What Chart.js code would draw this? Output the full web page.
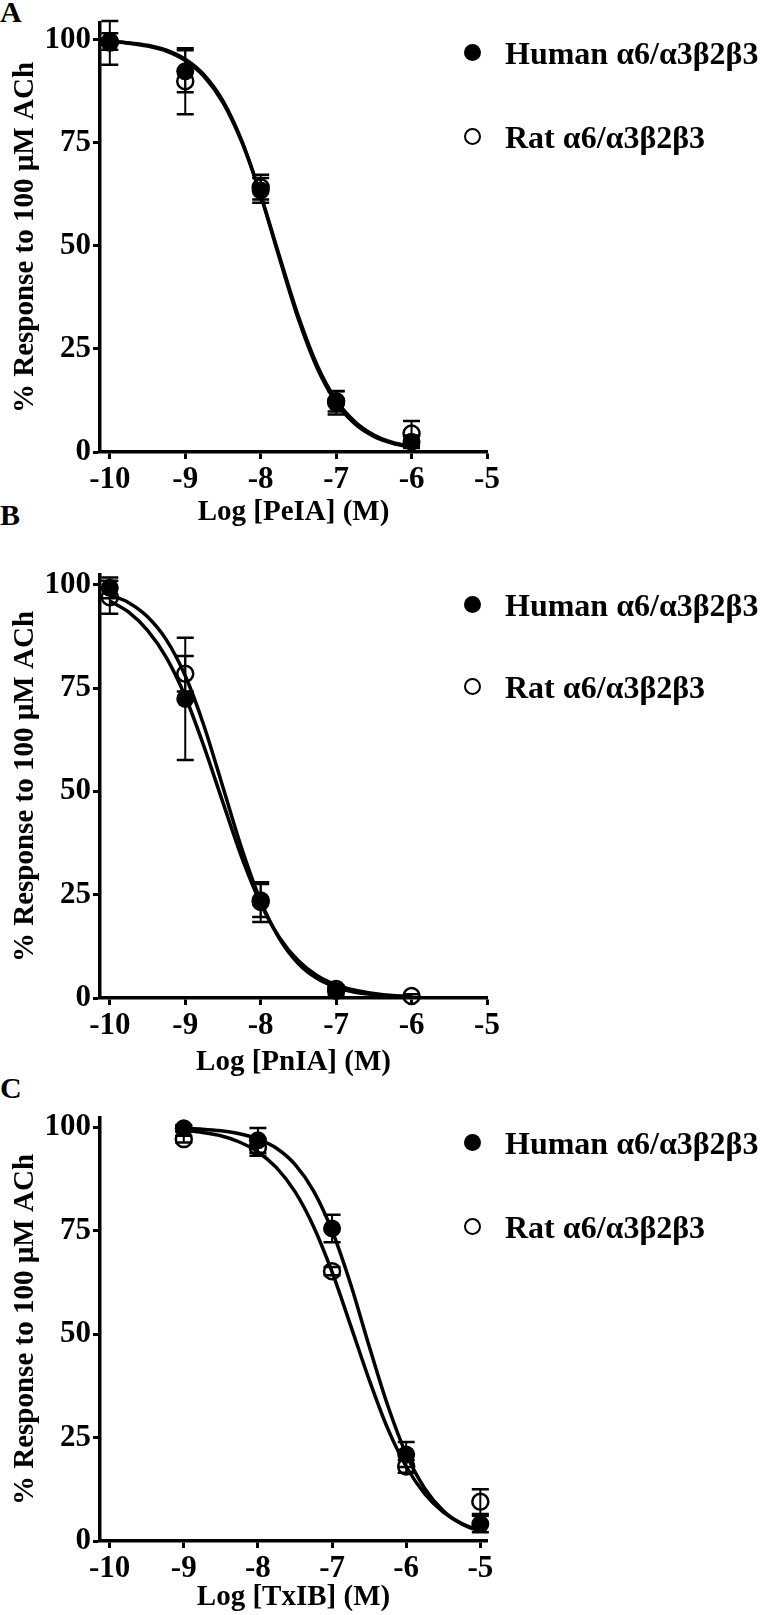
<!DOCTYPE html>
<html>
<head>
<meta charset="utf-8">
<script src="https://cdn.jsdelivr.net/npm/chart.js@4.4.1/dist/chart.umd.min.js"></script>
<style>
  html, body { margin: 0; padding: 0; background: #fff; overflow: hidden; }
  #page { position: relative; width: 760px; height: 1615px; overflow: hidden; }
  canvas { position: absolute; left: 0; }
  .letter {
    position: absolute; left: 0; font: bold 30px "Liberation Serif", serif;
    line-height: 30px; color: #000;
  }
  .legend {
    position: absolute; left: 505px; font: bold 32px "Liberation Serif", serif;
    line-height: 32px; color: #000; white-space: nowrap;
  }
  .dot {
    position: absolute; left: 464px; width: 17px; height: 17px;
    border-radius: 50%; box-sizing: border-box;
  }
  .dot.filled { background: #000; }
  .dot.open { border: 2.5px solid #000; }
</style>
</head>
<body>
<div id="page">
  <div class="letter" style="top:-3px">A</div>
  <div class="letter" style="top:500px">B</div>
  <div class="letter" style="top:1073px">C</div>

  <canvas id="chartA" width="760" height="530" style="top:0px"></canvas>
  <canvas id="chartB" width="760" height="540" style="top:540px"></canvas>
  <canvas id="chartC" width="760" height="535" style="top:1080px"></canvas>

  <div class="dot filled" style="top:44px"></div>
  <div class="legend" style="top:37px">Human α6/α3β2β3</div>
  <div class="dot open" style="top:128px"></div>
  <div class="legend" style="top:121px">Rat α6/α3β2β3</div>

  <div class="dot filled" style="top:596px"></div>
  <div class="legend" style="top:589px">Human α6/α3β2β3</div>
  <div class="dot open" style="top:678px"></div>
  <div class="legend" style="top:671px">Rat α6/α3β2β3</div>

  <div class="dot filled" style="top:1134px"></div>
  <div class="legend" style="top:1127px">Human α6/α3β2β3</div>
  <div class="dot open" style="top:1218px"></div>
  <div class="legend" style="top:1211px">Rat α6/α3β2β3</div>
</div>

<script>
// values (log molar concentration vs % response)
const xTicks = [-10, -9, -8, -7, -6, -5];
const yTicks = [0, 25, 50, 75, 100];

// A: PeIA
const peiaX = [-10, -9, -8, -7, -6];
const peiaHuman = [99.2, 92.3, 63.4, 11.9, 2.5];
const peiaHumanErr = [5.3, 5.1, 3.0, 2.8, 1.5];
const peiaRat = [99.5, 89.9, 64.2, 12.3, 4.5];
const peiaRatErr = [2.0, 8.0, 3.0, 2.5, 3.0];

// B: PnIA (no visible human point at -6)
const pniaX = [-10, -9, -8, -7, -6];
const pniaHuman = [99.3, 72.4, 23.2, 1.7, null];
const pniaHumanErr = [2.5, 14.8, 4.8, 1.0, 0];
const pniaRat = [97.0, 78.5, 23.6, 2.2, 0.5];
const pniaRatErr = [4.0, 4.3, 4.0, 0.8, 0.4];

// C: TxIB
const txibX = [-9, -8, -7, -6, -5];
const txibHuman = [99.7, 96.8, 75.5, 20.9, 4.1];
const txibHumanErr = [0.8, 3.0, 3.3, 3.0, 2.0];
const txibRat = [97.1, 95.1, 65.2, 18.0, 9.5];
const txibRatErr = [0.8, 2.0, 1.0, 1.5, 3.0];

// fitted curves, read every 0.25 log unit
const curveX = [-10, -9.75, -9.5, -9.25, -9, -8.75, -8.5, -8.25, -8,
  -7.75, -7.5, -7.25, -7, -6.75, -6.5, -6.25, -6];
const peiaHumanFit = [99.6, 99.2, 98.6, 97.4, 95.2, 91.4, 85.1, 75.4, 62.2,
  46.9, 32.2, 20.3, 12.0, 6.8, 3.8, 2.1, 1.1];
const peiaRatFit = [99.5, 99.1, 98.4, 97.2, 94.9, 91.0, 84.7, 75.1, 62.3,
  47.4, 32.9, 21.0, 12.6, 7.3, 4.1, 2.3, 1.3];
const pniaHumanFit = [96.1, 93.4, 89.0, 82.4, 73.0, 60.8, 47.3, 34.0, 22.9,
  14.6, 9.0, 5.4, 3.2, 1.9, 1.1, 0.6, 0.4];
const pniaRatFit = [97.6, 95.7, 92.3, 86.7, 78.0, 65.8, 51.0, 36.1, 23.5,
  14.3, 8.3, 4.7, 2.6, 1.4, 0.8, 0.4, 0.2];

const curveXC = [-9, -8.75, -8.5, -8.25, -8, -7.75, -7.5, -7.25, -7,
  -6.75, -6.5, -6.25, -6, -5.75, -5.5, -5.25, -5];
const txibHumanFit = [99.7, 99.5, 99.1, 98.4, 97.1, 94.9, 91.0, 84.6, 75.0,
  62.1, 47.1, 32.8, 21.0, 12.7, 7.3, 4.1, 2.3];
const txibRatFit = [99.3, 98.7, 97.9, 96.4, 94.0, 90.2, 84.4, 76.0, 65.0,
  52.1, 39.0, 27.2, 18.0, 11.4, 7.0, 4.2, 2.5];

const serif = "'Liberation Serif', 'Times New Roman', serif";

function pts(xs, ys) {
  return xs.map((x, i) => ({ x: x, y: ys[i] }));
}

// draws SEM bars with caps underneath the markers
const errorBars = {
  id: "errorBars",
  beforeDatasetsDraw(chart) {
    const ctx = chart.ctx;
    const xs = chart.scales.x;
    const ys = chart.scales.y;
    ctx.save();
    ctx.strokeStyle = "#000";
    chart.data.datasets.forEach((ds) => {
      if (!ds.errors) return;
      ds.data.forEach((p, i) => {
        const e = ds.errors[i];
        if (p.y === null || !e) return;
        const px = xs.getPixelForValue(p.x);
        const top = ys.getPixelForValue(p.y + e);
        const bot = ys.getPixelForValue(p.y - e);
        ctx.lineWidth = 2;
        ctx.beginPath();
        ctx.moveTo(px, top);
        ctx.lineTo(px, bot);
        ctx.stroke();
        ctx.lineWidth = 2.5;
        ctx.beginPath();
        ctx.moveTo(px - 8.5, top);
        ctx.lineTo(px + 8.5, top);
        ctx.moveTo(px - 8.5, bot);
        ctx.lineTo(px + 8.5, bot);
        ctx.stroke();
      });
    });
    ctx.restore();
  },
};

function makePanel(id, p) {
  const tickFont = { family: serif, size: 31, weight: "bold" };
  const titleFont = { family: serif, size: 29, weight: "bold" };
  const datasets = [
    {
      data: pts(p.x, p.human), errors: p.humanErr,
      pointRadius: 9, pointBackgroundColor: "#000", pointBorderWidth: 0,
      showLine: false, clip: false,
    },
    {
      data: pts(p.x, p.rat), errors: p.ratErr,
      pointRadius: 8, pointBackgroundColor: "rgba(0,0,0,0)",
      pointBorderColor: "#000", pointBorderWidth: 2.5,
      showLine: false, clip: false,
    },
    {
      data: pts(p.curveX, p.humanFit), showLine: true, pointRadius: 0,
      borderColor: "#000", borderWidth: 3.5, cubicInterpolationMode: "monotone",
    },
    {
      data: pts(p.curveX, p.ratFit), showLine: true, pointRadius: 0,
      borderColor: "#000", borderWidth: 3.5, cubicInterpolationMode: "monotone",
    },
  ];

  new Chart(document.getElementById(id), {
    type: "scatter",
    data: { datasets: datasets },
    plugins: [errorBars],
    options: {
      responsive: false,
      animation: false,
      layout: { padding: { top: p.top, left: 0, right: 273, bottom: 0 } },
      plugins: { legend: { display: false }, tooltip: { enabled: false } },
      scales: {
        x: {
          type: "linear", min: -10.13, max: p.xMax,
          afterBuildTicks: (s) => { s.ticks = xTicks.map((v) => ({ value: v })); },
          afterFit: (s) => { s.height = p.xh; },
          ticks: { font: tickFont, color: "#000", padding: 2 },
          grid: {
            display: true, drawOnChartArea: false, drawTicks: true,
            tickLength: 7, tickWidth: 3, color: "#000",
          },
          border: { display: true, color: "#000", width: 3.5 },
          title: {
            display: true, text: p.xTitle, color: "#000",
            font: titleFont, padding: { top: 0, bottom: 0 },
          },
        },
        y: {
          min: 0, max: p.yMax,
          afterBuildTicks: (s) => { s.ticks = yTicks.map((v) => ({ value: v })); },
          afterFit: (s) => { s.width = 100; },
          ticks: { font: tickFont, color: "#000", padding: 2 },
          grid: {
            display: true, drawOnChartArea: false, drawTicks: true,
            tickLength: 7, tickWidth: 3, color: "#000",
          },
          border: { display: true, color: "#000", width: 3.5 },
          title: {
            display: true, text: "% Response to 100 µM ACh", color: "#000",
            font: titleFont, padding: { top: 8, bottom: 0 },
          },
        },
      },
    },
  });
}

makePanel("chartA", {
  x: peiaX, human: peiaHuman, humanErr: peiaHumanErr, rat: peiaRat, ratErr: peiaRatErr,
  curveX: curveX, humanFit: peiaHumanFit, ratFit: peiaRatFit,
  xTitle: "Log [PeIA] (M)", top: 23, xh: 78, yMax: 104, xMax: -5,
});
makePanel("chartB", {
  x: pniaX, human: pniaHuman, humanErr: pniaHumanErr, rat: pniaRat, ratErr: pniaRatErr,
  curveX: curveX, humanFit: pniaHumanFit, ratFit: pniaRatFit,
  xTitle: "Log [PnIA] (M)", top: 35, xh: 82, yMax: 102.4, xMax: -5,
});
makePanel("chartC", {
  x: txibX, human: txibHuman, humanErr: txibHumanErr, rat: txibRat, ratErr: txibRatErr,
  curveX: curveXC, humanFit: txibHumanFit, ratFit: txibRatFit,
  xTitle: "Log [TxIB] (M)", top: 38, xh: 74, yMax: 102.2, xMax: -4.91,
});
</script>
</body>
</html>
